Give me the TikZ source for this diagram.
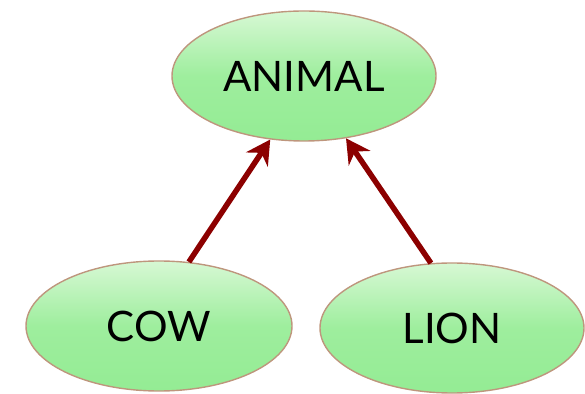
\documentclass[tikz,border=0pt]{standalone}
\usepackage{fontspec}
\setmainfont{Lato}
\usetikzlibrary{shapes.geometric,arrows.meta}
\definecolor{blobtop}{RGB}{215,248,212}
\definecolor{blobbottom}{RGB}{148,236,148}
\definecolor{blobedge}{RGB}{190,150,125}
\definecolor{linkred}{RGB}{140,0,0}
\tikzset{
  blob/.style={ellipse, draw=blobedge, line width=1.4pt,
    top color=blobtop, bottom color=blobbottom, middle color=blobbottom!85!blobtop,
    minimum width=264pt, minimum height=130pt, inner sep=0pt,
    font=\fontsize{42}{50}\selectfont},
  link/.style={draw=linkred, line width=5.5pt,
    -{Stealth[length=24pt,width=26pt,inset=8pt]}}
}
\begin{document}
\begin{tikzpicture}[x=1pt,y=1pt]
  \useasboundingbox (0,0) rectangle (585,393);
  \node[blob] (animal) at (304,317) {ANIMAL};
  \node[blob, minimum width=266pt] (cow) at (159,67) {COW};
  \node[blob] (lion) at (452,65) {LION};
  \draw[link] (cow.65) -- (animal.242);
  \draw[link] (lion.108) -- (animal.304);
\end{tikzpicture}
\end{document}
